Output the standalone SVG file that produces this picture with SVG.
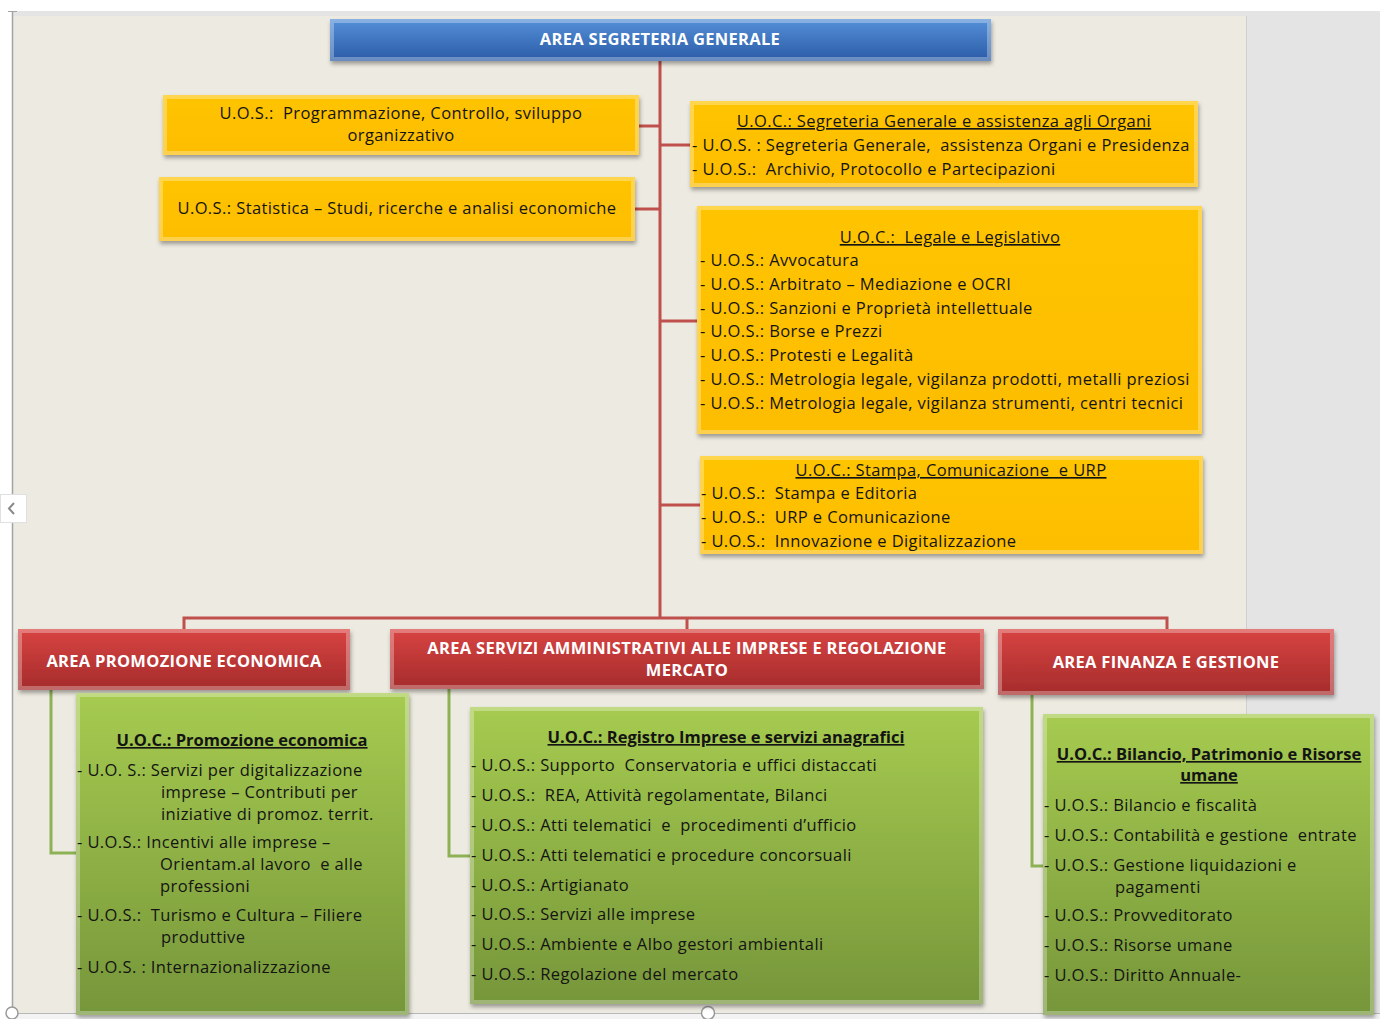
<svg xmlns="http://www.w3.org/2000/svg" width="1380" height="1019" viewBox="0 0 1380 1019" xml:space="preserve">
<defs>
<style>
text{white-space:pre}
.t{font-family:"Open Sans","Liberation Sans",sans-serif;font-size:16.5px;letter-spacing:0.4px;fill:#141414}
.c{text-anchor:middle}
.u{text-decoration:underline}
.b{font-weight:bold;letter-spacing:0}
.h{font-family:"Open Sans","Liberation Sans",sans-serif;font-size:16.5px;letter-spacing:0.3px;font-weight:bold;fill:#fff;text-anchor:middle}
.red{stroke:#c0504d;stroke-width:3;fill:none}
.grn{stroke:#8db255;stroke-width:3;fill:none}
.bev{fill:none;stroke:#fff;stroke-opacity:0.3;stroke-width:4}
</style>
<linearGradient id="gBlue" x1="0" y1="0" x2="0" y2="1"><stop offset="0" stop-color="#5590d8"/><stop offset="1" stop-color="#2a5ba6"/></linearGradient>
<linearGradient id="gRed" x1="0" y1="0" x2="0" y2="1"><stop offset="0" stop-color="#d84442"/><stop offset="1" stop-color="#a52b2b"/></linearGradient>
<linearGradient id="gGreen" x1="0" y1="0" x2="0" y2="1"><stop offset="0" stop-color="#a6cb50"/><stop offset="1" stop-color="#76963a"/></linearGradient>
<linearGradient id="gYel" x1="0" y1="0" x2="0" y2="1"><stop offset="0" stop-color="#ffc400"/><stop offset="1" stop-color="#fdbd00"/></linearGradient>
<filter id="sh" x="-5%" y="-10%" width="110%" height="125%"><feDropShadow dx="1" dy="3" stdDeviation="2" flood-color="#000" flood-opacity="0.35"/></filter>
</defs>

<g id="background">
<rect x="0" y="0" width="1380" height="1019" fill="#ffffff"/>
<rect x="12" y="11" width="1368" height="1002" fill="#e4e4e4"/>
<rect x="13" y="16" width="1233" height="997" fill="#edebe1"/>
<line x1="1246.5" y1="16" x2="1246.5" y2="1013" stroke="#cfcfcf" stroke-width="1"/>
<line x1="12.5" y1="11" x2="12.5" y2="1013" stroke="#a3a3a3" stroke-width="1.5"/>
<line x1="8" y1="11.5" x2="17" y2="11.5" stroke="#a3a3a3" stroke-width="1"/>
<line x1="12" y1="1013.5" x2="1380" y2="1013.5" stroke="#b8b8b8" stroke-width="1"/>
<rect x="12" y="1014" width="1368" height="5" fill="#f3f3f3"/>
<circle cx="12" cy="1013" r="6" fill="#fff" stroke="#9a9a9a" stroke-width="1.5"/>
<circle cx="708" cy="1013" r="6.5" fill="#fff" stroke="#9a9a9a" stroke-width="1.5"/>
<rect x="0.5" y="494.5" width="26" height="28" fill="#ffffff" stroke="#e0e0e0" stroke-width="1"/>
<polyline points="14,503 9,508.5 14,514" fill="none" stroke="#8a8a8a" stroke-width="2"/>
</g>

<g id="connectors">
<line class="red" x1="660" y1="61" x2="660" y2="619"/>
<line class="red" x1="638" y1="126" x2="660" y2="126"/>
<line class="red" x1="634" y1="209" x2="660" y2="209"/>
<line class="red" x1="660" y1="145" x2="691" y2="145"/>
<line class="red" x1="660" y1="321" x2="698" y2="321"/>
<line class="red" x1="660" y1="505" x2="701" y2="505"/>
<polyline class="red" points="184,630 184,618 1167,618 1167,630"/>
<line class="red" x1="687" y1="618" x2="687" y2="630"/>
<polyline class="grn" points="51,689 51,853 77,853"/>
<polyline class="grn" points="449,688 449,856 471,856"/>
<polyline class="grn" points="1032,694 1032,866 1044,866"/>
</g>

<g id="area-segreteria">
<rect x="330" y="19" width="661" height="42" fill="url(#gBlue)" filter="url(#sh)"/>
<rect class="bev" x="332" y="21" width="657" height="38"/>
<text class="h" x="660" y="45">AREA SEGRETERIA GENERALE</text>
</g>

<g id="uos-programmazione">
<rect x="163" y="95" width="476" height="60" fill="url(#gYel)" filter="url(#sh)"/>
<rect class="bev" x="165" y="97" width="472" height="56"/>
<text class="t c" x="401" y="119">U.O.S.:  Programmazione, Controllo, sviluppo</text>
<text class="t c" x="401" y="141">organizzativo</text>
</g>

<g id="uos-statistica">
<rect x="159" y="177" width="476" height="64" fill="url(#gYel)" filter="url(#sh)"/>
<rect class="bev" x="161" y="179" width="472" height="60"/>
<text class="t c" x="397" y="214">U.O.S.: Statistica – Studi, ricerche e analisi economiche</text>
</g>

<g id="uoc-segreteria">
<rect x="690" y="101" width="508" height="86" fill="url(#gYel)" filter="url(#sh)"/>
<rect class="bev" x="692" y="103" width="504" height="82"/>
<text class="t c u" x="944" y="127">U.O.C.: Segreteria Generale e assistenza agli Organi</text>
<text class="t" x="692" y="151">- U.O.S. : Segreteria Generale,  assistenza Organi e Presidenza</text>
<text class="t" x="692" y="175">- U.O.S.:  Archivio, Protocollo e Partecipazioni</text>
</g>

<g id="uoc-legale">
<rect x="697" y="206" width="505" height="228" fill="url(#gYel)" filter="url(#sh)"/>
<rect class="bev" x="699" y="208" width="501" height="224"/>
<text class="t c u" x="950" y="243">U.O.C.:  Legale e Legislativo</text>
<text class="t" x="700" y="266">- U.O.S.: Avvocatura</text>
<text class="t" x="700" y="290">- U.O.S.: Arbitrato – Mediazione e OCRI</text>
<text class="t" x="700" y="314">- U.O.S.: Sanzioni e Proprietà intellettuale</text>
<text class="t" x="700" y="337">- U.O.S.: Borse e Prezzi</text>
<text class="t" x="700" y="361">- U.O.S.: Protesti e Legalità</text>
<text class="t" x="700" y="385">- U.O.S.: Metrologia legale, vigilanza prodotti, metalli preziosi</text>
<text class="t" x="700" y="409">- U.O.S.: Metrologia legale, vigilanza strumenti, centri tecnici</text>
</g>

<g id="uoc-stampa">
<rect x="700" y="456" width="503" height="98" fill="url(#gYel)" filter="url(#sh)"/>
<rect class="bev" x="702" y="458" width="499" height="94"/>
<text class="t c u" x="951" y="476">U.O.C.: Stampa, Comunicazione  e URP</text>
<text class="t" x="701" y="499">- U.O.S.:  Stampa e Editoria</text>
<text class="t" x="701" y="523">- U.O.S.:  URP e Comunicazione</text>
<text class="t" x="701" y="547">- U.O.S.:  Innovazione e Digitalizzazione</text>
</g>

<g id="area-promozione">
<rect x="18" y="629" width="332" height="61" fill="url(#gRed)" filter="url(#sh)"/>
<rect class="bev" x="20" y="631" width="328" height="57"/>
<text class="h" x="184" y="667">AREA PROMOZIONE ECONOMICA</text>
</g>

<g id="area-servizi">
<rect x="390" y="629" width="594" height="60" fill="url(#gRed)" filter="url(#sh)"/>
<rect class="bev" x="392" y="631" width="590" height="56"/>
<text class="h" x="687" y="654">AREA SERVIZI AMMINISTRATIVI ALLE IMPRESE E REGOLAZIONE</text>
<text class="h" x="687" y="676">MERCATO</text>
</g>

<g id="area-finanza">
<rect x="998" y="629" width="336" height="66" fill="url(#gRed)" filter="url(#sh)"/>
<rect class="bev" x="1000" y="631" width="332" height="62"/>
<text class="h" x="1166" y="668">AREA FINANZA E GESTIONE</text>
</g>

<g id="uoc-promozione">
<rect x="76" y="693" width="333" height="322" fill="url(#gGreen)" filter="url(#sh)"/>
<rect class="bev" x="78" y="695" width="329" height="318"/>
<text class="t c u b" x="242" y="746">U.O.C.: Promozione economica</text>
<text class="t" x="77" y="776">- U.O. S.: Servizi per digitalizzazione</text>
<text class="t" x="161" y="798">imprese – Contributi per</text>
<text class="t" x="161" y="820">iniziative di promoz. territ.</text>
<text class="t" x="77" y="848">- U.O.S.: Incentivi alle imprese –</text>
<text class="t" x="160" y="870">Orientam.al lavoro  e alle</text>
<text class="t" x="160" y="892">professioni</text>
<text class="t" x="77" y="921">- U.O.S.:  Turismo e Cultura – Filiere</text>
<text class="t" x="161" y="943">produttive</text>
<text class="t" x="77" y="973">- U.O.S. : Internazionalizzazione</text>
</g>

<g id="uoc-registro">
<rect x="470" y="707" width="513" height="297" fill="url(#gGreen)" filter="url(#sh)"/>
<rect class="bev" x="472" y="709" width="509" height="293"/>
<text class="t c u b" x="726" y="743">U.O.C.: Registro Imprese e servizi anagrafici</text>
<text class="t" x="471" y="771">- U.O.S.: Supporto  Conservatoria e uffici distaccati</text>
<text class="t" x="471" y="801">- U.O.S.:  REA, Attività regolamentate, Bilanci</text>
<text class="t" x="471" y="831">- U.O.S.: Atti telematici  e  procedimenti d’ufficio</text>
<text class="t" x="471" y="861">- U.O.S.: Atti telematici e procedure concorsuali</text>
<text class="t" x="471" y="891">- U.O.S.: Artigianato</text>
<text class="t" x="471" y="920">- U.O.S.: Servizi alle imprese</text>
<text class="t" x="471" y="950">- U.O.S.: Ambiente e Albo gestori ambientali</text>
<text class="t" x="471" y="980">- U.O.S.: Regolazione del mercato</text>
</g>

<g id="uoc-bilancio">
<rect x="1043" y="714" width="331" height="301" fill="url(#gGreen)" filter="url(#sh)"/>
<rect class="bev" x="1045" y="716" width="327" height="297"/>
<text class="t c u b" x="1209" y="760">U.O.C.: Bilancio, Patrimonio e Risorse</text>
<text class="t c u b" x="1209" y="781">umane</text>
<text class="t" x="1044" y="811">- U.O.S.: Bilancio e fiscalità</text>
<text class="t" x="1044" y="841">- U.O.S.: Contabilità e gestione  entrate</text>
<text class="t" x="1044" y="871">- U.O.S.: Gestione liquidazioni e</text>
<text class="t" x="1115" y="893">pagamenti</text>
<text class="t" x="1044" y="921">- U.O.S.: Provveditorato</text>
<text class="t" x="1044" y="951">- U.O.S.: Risorse umane</text>
<text class="t" x="1044" y="981">- U.O.S.: Diritto Annuale-</text>
</g>
</svg>
